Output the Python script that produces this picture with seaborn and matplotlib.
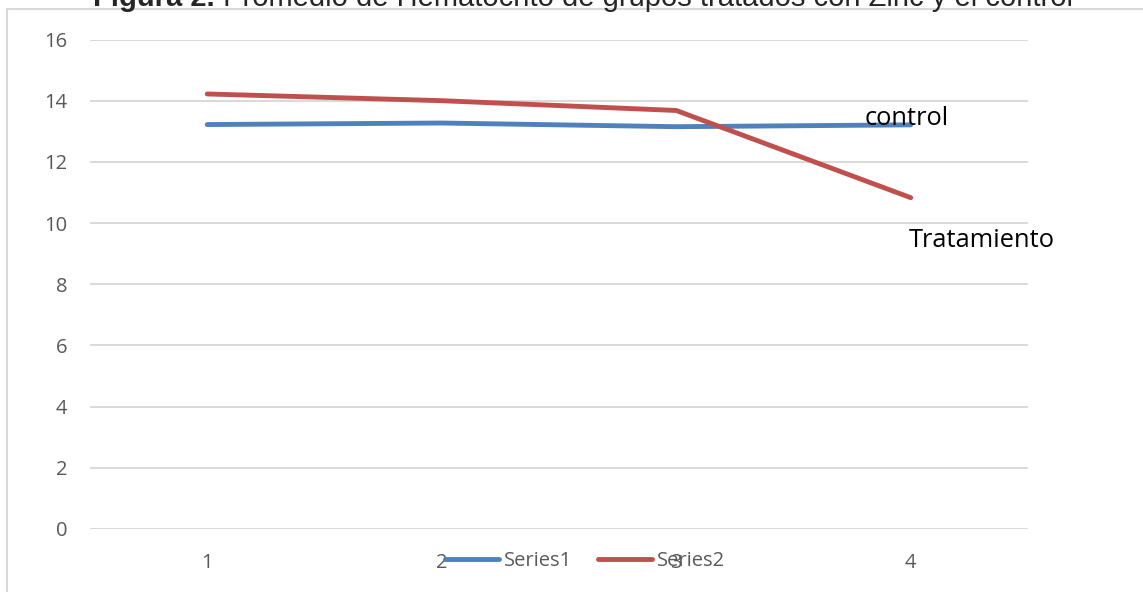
import matplotlib
matplotlib.use("Agg")
import matplotlib.pyplot as plt
from matplotlib.lines import Line2D
import seaborn as sns
import pandas as pd

# Hematocrit averages per sampling point
categories = ["1", "2", "3", "4"]
series1 = [13.22, 13.27, 13.15, 13.21]   # control group
series2 = [14.22, 14.00, 13.68, 10.83]   # zinc-treated group
series_names = ["Series1", "Series2"]
y_ticks = [0, 2, 4, 6, 8, 10, 12, 14, 16]

title_bold = "Figura 2."
title_rest = " Promedio de Hematocrito de grupos tratados con Zinc y el control"

BLUE = "#4F81BD"
RED = "#C0504D"
GRID = "#D9D9D9"
TICK = "#595959"
SANS = ["Open Sans", "DejaVu Sans"]
LW = 3.5

df = pd.DataFrame({
    "x": categories * 2,
    "value": series1 + series2,
    "serie": [series_names[0]] * len(categories) + [series_names[1]] * len(categories),
})

sns.set_theme(style="white")
plt.rcParams["font.family"] = SANS

W, H, DPI = 1143, 592, 100
fig = plt.figure(figsize=(W / DPI, H / DPI), dpi=DPI)
fig.patch.set_facecolor("white")

def fx(px):
    return px / W

def fy(py):
    return 1 - py / H

ax = fig.add_axes([fx(90), fy(529), fx(1028) - fx(90), fy(39.5) - fy(529)])
ax.set_facecolor("white")

sns.lineplot(data=df, x="x", y="value", hue="serie", palette=[BLUE, RED],
             linewidth=LW, sort=False, ax=ax, legend=False,
             solid_capstyle="round", solid_joinstyle="round")

ax.set_xlim(-0.5, len(categories) - 0.5)
ax.set_ylim(y_ticks[0], y_ticks[-1])
ax.set_yticks(y_ticks)
ax.set_yticklabels([str(t) for t in y_ticks])
ax.set_xlabel("")
ax.set_ylabel("")
for s in ax.spines.values():
    s.set_visible(False)
ax.grid(axis="y", color=GRID, linewidth=1.4)
ax.grid(axis="x", visible=False)
ax.set_axisbelow(True)
ax.tick_params(axis="both", length=0, labelsize=14.5, colors=TICK)
ax.tick_params(axis="y", pad=16.5)
ax.tick_params(axis="x", pad=17.5)

# Series labels placed next to the last point
ax.text(3 - 0.195, series1[-1], "control", fontsize=18.4, color="black",
        ha="left", va="baseline")
ax.text(3 - 0.01, 9.21, "Tratamiento", fontsize=18.4, color="black",
        ha="left", va="baseline")

# Legend along the bottom
handles = [Line2D([0], [0], color=BLUE, linewidth=LW, solid_capstyle="round"),
           Line2D([0], [0], color=RED, linewidth=LW, solid_capstyle="round")]
fig.legend(handles, series_names, loc="center", ncol=2,
           bbox_to_anchor=(fx(585), fy(561)), frameon=False,
           fontsize=14.5, labelcolor=TICK, handlelength=2.7, handletextpad=0.25,
           columnspacing=1.25)

# Chart frame
fig.add_artist(Line2D([fx(7), fx(7)], [fy(9), fy(600)], color=GRID, linewidth=1.5))
fig.add_artist(Line2D([fx(7), fx(1150)], [fy(9), fy(9)], color=GRID, linewidth=1.5))

# Title (bold prefix followed by regular text)
TITLE_FONT = ["Liberation Sans", "DejaVu Sans"]
t1 = fig.text(fx(93), fy(6.5), title_bold, fontsize=21, fontweight="bold",
              family=TITLE_FONT, ha="left", va="baseline")
fig.canvas.draw()
bb = t1.get_window_extent()
fig.text(fx(bb.x1), fy(6.5), title_rest, fontsize=21,
         family=TITLE_FONT, ha="left", va="baseline")

fig.savefig("out.png", dpi=DPI, facecolor="white")
